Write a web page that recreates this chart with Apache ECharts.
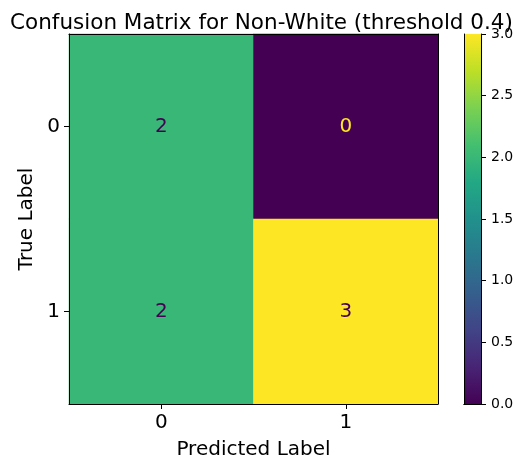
<!DOCTYPE html>
<html><head><meta charset="utf-8">
<script src="https://cdn.jsdelivr.net/npm/echarts@6/dist/echarts.min.js"></script>
<style>html,body{margin:0;padding:0;background:#fff}#c{width:523px;height:469px}</style>
</head><body><div id="c"></div>
<script>
const xCategories = ['0', '1'];
const yCategories = ['0', '1'];
// matrix[row = true label][col = predicted label]
const matrix = [[2, 0], [2, 3]];
const colorbarTicks = [0.0, 0.5, 1.0, 1.5, 2.0, 2.5, 3.0];
const vMin = 0, vMax = 3;

const viridis = ['#440154','#482475','#414487','#355f8d','#2a788e','#21918c','#22a884','#44bf70','#7ad151','#bddf26','#fde725'];
const font = 'DejaVu Sans';

const data = [];
matrix.forEach((row, i) => row.forEach((v, j) => {
  data.push({value: [j, i, v], label: {color: v < (vMin + vMax) / 2 ? '#fde725' : '#440154'}});
}));

const frameAxis = {show: true, axisLine: {show: true, lineStyle: {color: '#000', width: 1}}, axisTick: {show: false}, axisLabel: {show: false}, splitLine: {show: false}, z: 10};

const chart = echarts.init(document.getElementById('c'), null, {renderer: 'canvas'});
chart.setOption({
  animation: false,
  backgroundColor: '#fff',
  title: {text: 'Confusion Matrix for Non-White (threshold 0.4)', left: 'center', top: 7,
    textStyle: {fontFamily: font, fontSize: 21.5, fontWeight: 'normal', color: '#000'}},
  grid: [
    {left: 69, right: 85, top: 34, bottom: 65, outerBoundsMode: 'none', containLabel: false},
    {left: 464, width: 17, top: 34, bottom: 65, outerBoundsMode: 'none', containLabel: false}
  ],
  visualMap: {show: false, min: vMin, max: vMax, seriesIndex: 0, inRange: {color: viridis}},
  xAxis: [
    {type: 'category', data: xCategories, gridIndex: 0, name: 'Predicted Label', nameLocation: 'middle', nameGap: 36,
      nameTextStyle: {fontFamily: font, fontSize: 20, color: '#000'}, z: 10,
      axisLine: {show: true, lineStyle: {color: '#000', width: 1}}, axisTick: {show: true, alignWithLabel: true, length: 5, lineStyle: {color: '#000'}},
      axisLabel: {fontFamily: font, fontSize: 20, color: '#000', margin: 9}, splitLine: {show: false}},
    Object.assign({type: 'category', data: xCategories, gridIndex: 0, position: 'top'}, frameAxis),
    {type: 'category', data: ['cb'], gridIndex: 1, position: 'bottom', ...frameAxis},
    {type: 'category', data: ['cb'], gridIndex: 1, position: 'top', ...frameAxis}
  ],
  yAxis: [
    {type: 'category', data: yCategories, gridIndex: 0, inverse: true, name: 'True Label', nameLocation: 'middle', nameGap: 30,
      nameTextStyle: {fontFamily: font, fontSize: 20, color: '#000'}, z: 10,
      axisLine: {show: true, lineStyle: {color: '#000', width: 1}}, axisTick: {show: true, alignWithLabel: true, length: 5, lineStyle: {color: '#000'}},
      axisLabel: {fontFamily: font, fontSize: 20, color: '#000', margin: 9}, splitLine: {show: false}},
    Object.assign({type: 'category', data: yCategories, gridIndex: 0, inverse: true, position: 'right'}, frameAxis),
    {type: 'value', gridIndex: 1, position: 'right', min: vMin, max: vMax, interval: 0.5, z: 10,
      axisLine: {show: true, lineStyle: {color: '#000', width: 1}}, axisTick: {show: true, length: 5, lineStyle: {color: '#000'}},
      axisLabel: {fontFamily: font, fontSize: 14, color: '#000', margin: 10, formatter: v => colorbarTicks.includes(v) ? v.toFixed(1) : ''},
      splitLine: {show: false}},
    {type: 'value', gridIndex: 1, position: 'left', min: vMin, max: vMax, ...frameAxis}
  ],
  series: [
    {type: 'heatmap', xAxisIndex: 0, yAxisIndex: 0, data: data,
      label: {show: true, fontFamily: font, fontSize: 20, formatter: p => String(p.value[2])},
      itemStyle: {borderWidth: 0}, emphasis: {disabled: true}},
    {type: 'bar', xAxisIndex: 2, yAxisIndex: 2, data: [vMax], barWidth: '100%', silent: true,
      itemStyle: {color: new echarts.graphic.LinearGradient(0, 1, 0, 0,
        viridis.map((c, i) => ({offset: i / (viridis.length - 1), color: c})))}}
  ]
});
</script></body></html>
